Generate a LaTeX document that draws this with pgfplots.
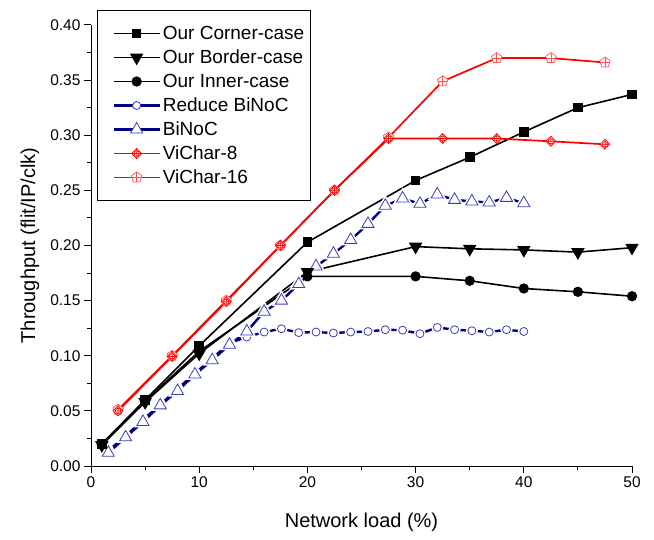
\documentclass[border=0pt]{standalone}
\usepackage{fontspec}
\setmainfont{Liberation Sans}
\usepackage{pgfplots}
\pgfplotsset{compat=1.18}

\definecolor{navyb}{RGB}{0,0,128}
\definecolor{mkblue}{RGB}{60,60,185}
\definecolor{vclight}{RGB}{255,80,80}

% diamond with circle and cross (ViChar-8)
\pgfdeclareplotmark{diamondplus}{%
  \pgfpathmoveto{\pgfqpoint{0pt}{\pgfplotmarksize}}%
  \pgfpathlineto{\pgfqpoint{\pgfplotmarksize}{0pt}}%
  \pgfpathlineto{\pgfqpoint{0pt}{-\pgfplotmarksize}}%
  \pgfpathlineto{\pgfqpoint{-\pgfplotmarksize}{0pt}}%
  \pgfpathclose
  \pgfusepathqfillstroke
  \pgfpathcircle{\pgfpointorigin}{0.55\pgfplotmarksize}%
  \pgfpathmoveto{\pgfqpoint{0pt}{\pgfplotmarksize}}%
  \pgfpathlineto{\pgfqpoint{0pt}{-\pgfplotmarksize}}%
  \pgfpathmoveto{\pgfqpoint{\pgfplotmarksize}{0pt}}%
  \pgfpathlineto{\pgfqpoint{-\pgfplotmarksize}{0pt}}%
  \pgfusepathqstroke
}
% pentagon with cross (ViChar-16)
\pgfdeclareplotmark{pentaplus}{%
  \pgfpathmoveto{\pgfqpointpolar{90}{\pgfplotmarksize}}%
  \pgfpathlineto{\pgfqpointpolar{162}{\pgfplotmarksize}}%
  \pgfpathlineto{\pgfqpointpolar{234}{\pgfplotmarksize}}%
  \pgfpathlineto{\pgfqpointpolar{306}{\pgfplotmarksize}}%
  \pgfpathlineto{\pgfqpointpolar{18}{\pgfplotmarksize}}%
  \pgfpathclose
  \pgfusepathqfillstroke
  \pgfpathmoveto{\pgfqpointpolar{90}{\pgfplotmarksize}}%
  \pgfpathlineto{\pgfqpoint{0pt}{-0.81\pgfplotmarksize}}%
  \pgfpathmoveto{\pgfqpoint{-0.85\pgfplotmarksize}{0pt}}%
  \pgfpathlineto{\pgfqpoint{0.85\pgfplotmarksize}{0pt}}%
  \pgfusepathqstroke
}

\pgfplotstableread{
x      y
1      0.020
5      0.060
10     0.109
20     0.203
30     0.259
35     0.280
40     0.303
45     0.325
50     0.337
}\corner
\pgfplotstableread{
x      y
1      0.019
5      0.058
10     0.102
20     0.176
30     0.199
35     0.197
40     0.196
45     0.194
50     0.198
}\border
\pgfplotstableread{
x      y
1      0.020
5      0.059
10     0.104
20     0.172
30     0.172
35     0.168
40     0.161
45     0.158
50     0.154
}\inner
\pgfplotstableread{
x      y
1.6    0.014
3.2    0.027
4.8    0.042
6.4    0.0555
8.0    0.070
9.6    0.084
11.2   0.0975
12.8   0.1115
14.4   0.117
16.0   0.1215
17.6   0.1245
19.2   0.121
20.8   0.1215
22.4   0.1206
24.0   0.1215
25.6   0.122
27.2   0.1236
28.8   0.1232
30.4   0.120
32.0   0.1257
33.6   0.1236
35.2   0.1227
36.8   0.1215
38.4   0.1236
40.0   0.122
}\reduce
\pgfplotstableread{
x      y
1.6    0.012
3.2    0.026
4.8    0.040
6.4    0.055
8.0    0.068
9.6    0.083
11.2   0.096
12.8   0.110
14.4   0.122
16.0   0.140
17.6   0.150
19.2   0.165
20.8   0.181
22.4   0.1925
24.0   0.205
25.6   0.2196
27.2   0.236
28.8   0.2427
30.4   0.2378
32.0   0.2463
33.6   0.2414
35.2   0.240
36.8   0.239
38.4   0.2432
40.0   0.2384
}\binoc
\pgfplotstableread{
x      y
2.5    0.050
7.5    0.0994
12.5   0.149
17.5   0.200
22.5   0.250
27.5   0.297
32.5   0.297
37.5   0.297
42.5   0.2945
47.5   0.2918
}\vcheight
\pgfplotstableread{
x      y
2.5    0.051
7.5    0.100
12.5   0.150
17.5   0.200
22.5   0.250
27.5   0.298
32.5   0.349
37.5   0.370
42.5   0.370
47.5   0.366
}\vcsixteen

\pgfplotsset{
  cornerst/.style={black, line width=1.6bp, mark=square*, mark size=4bp,
    mark options={solid, fill=black}},
  borderst/.style={black, line width=1.6bp, mark=triangle*, mark size=6.2bp,
    mark options={solid, fill=black, rotate=180}},
  innerst/.style={black, line width=1.6bp, mark=*, mark size=4.3bp,
    mark options={solid, fill=black}},
  reducest/.style={navyb, line width=2.4bp, mark=*, mark size=4bp,
    mark options={solid, draw=mkblue, fill=white, line width=0.8bp}},
  binocst/.style={navyb, line width=2.4bp, mark=triangle*, mark size=7bp,
    mark options={solid, draw=mkblue, fill=white, line width=0.8bp}},
  vc8st/.style={red, line width=1.7bp, mark=diamondplus, mark size=5bp,
    mark options={solid, draw=red, fill=white, line width=0.7bp}},
  vc16st/.style={red, line width=1.7bp, mark=pentaplus, mark size=5.5bp,
    mark options={solid, draw=vclight, fill=white, line width=0.7bp}},
  % white gap round the markers, as Origin draws it
  halo/.style={forget plot, only marks, mark options={draw=white, fill=white, line width=4bp}},
}

\begin{document}
\begin{tikzpicture}
\begin{axis}[
  scale only axis,
  width=541bp, height=441bp,
  xmin=0, xmax=50, ymin=0, ymax=0.40,
  axis lines=left,
  axis line style={-, line width=1bp},
  tick align=outside,
  major tick length=7bp, minor tick length=4bp,
  tick style={black, line width=1bp},
  xtick={0,10,20,30,40,50}, minor x tick num=1,
  ytick={0,0.05,0.10,0.15,0.20,0.25,0.30,0.35,0.40}, minor y tick num=1,
  /pgf/number format/assume math mode=true,
  yticklabel style={/pgf/number format/.cd, fixed, fixed zerofill, precision=2},
  tick label style={font=\fontsize{15.5bp}{18bp}\selectfont},
  xlabel={Network load (\%)},
  ylabel={Throughput (flit/IP/clk)},
  label style={font=\fontsize{20bp}{24bp}\selectfont},
  xlabel style={at={(axis description cs:0.5,-0.127)}, anchor=center},
  ylabel style={at={(axis description cs:-0.113,0.5)}, anchor=center},
  legend style={at={(axis description cs:0.011,1.034)}, anchor=north west,
    draw=black, line width=1bp, font=\fontsize{19bp}{22bp}\selectfont,
    cells={anchor=west}, inner xsep=4bp, inner ysep=11bp, row sep=0bp,
    nodes={text height=15bp, text depth=3bp, inner ysep=3bp}},
  legend image code/.code={%
    \path (0bp,0bp);
    \draw[mark repeat=2, mark phase=2] plot coordinates {(11bp,0bp) (34bp,0bp) (57bp,0bp)};},
]
\addlegendimage{cornerst}
\addlegendimage{borderst}
\addlegendimage{innerst}
\addlegendimage{reducest}
\addlegendimage{binocst}
\addlegendimage{vc8st}
\addlegendimage{vc16st}
\legend{Our Corner-case, Our Border-case, Our Inner-case, Reduce BiNoC, BiNoC, ViChar-8, ViChar-16}

\addplot[reducest, forget plot] table {\reduce};
\addplot[reducest, halo] table {\reduce};
\addplot[reducest, forget plot, only marks] table {\reduce};
\addplot[binocst, forget plot] table {\binoc};
\addplot[binocst, halo] table {\binoc};
\addplot[binocst, forget plot, only marks] table {\binoc};

\addplot[cornerst, forget plot] table {\corner};
\addplot[borderst, forget plot] table {\border};
\addplot[innerst, forget plot] table {\inner};
\addplot[vc16st, forget plot] table {\vcsixteen};
\addplot[vc8st, forget plot] table {\vcheight};
\end{axis}
\path (current axis.south west) ++(-91bp,-73bp) coordinate (bbA);
\path (current axis.north east) ++(22bp,25bp) coordinate (bbB);
\path (bbA) rectangle (bbB);
\end{tikzpicture}
\end{document}
